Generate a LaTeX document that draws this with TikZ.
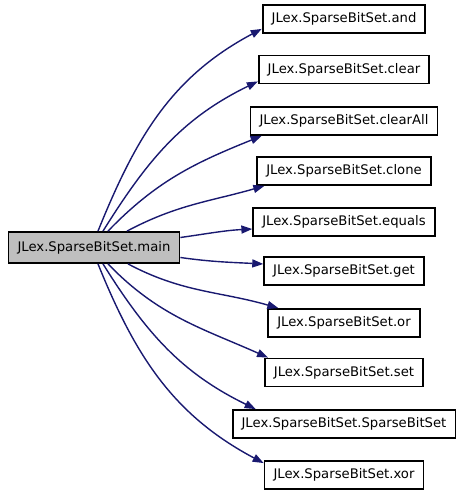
\documentclass[tikz,border=0pt]{standalone}
\usepackage{fontspec}
\setmainfont{DejaVu Sans}
\usepackage{tikz}
\usetikzlibrary{arrows.meta}
\definecolor{edgeblue}{HTML}{191970}
\definecolor{maingray}{HTML}{BFBFBF}

\begin{document}
\begin{tikzpicture}[x=1pt,y=1pt]
        \tikzset{fnbox/.style={rectangle, draw=black, line width=1.8pt, inner xsep=9pt, inner ysep=0pt, minimum height=28pt, font=\fontsize{13.2}{16}\selectfont}}
        \tikzset{call/.style={edgeblue, line width=1.4pt, -{Triangle[length=11pt,width=8pt]}}}
        \useasboundingbox (0,0) rectangle (463,493);

	%---NODES---
        \node[fnbox, fill=maingray, minimum height=31pt] (main) at (94,245.5) {JLex.SparseBitSet.main};

        \node[fnbox] (and)          at (344,474) {JLex.SparseBitSet.and};
        \node[fnbox] (clear)        at (344,423.5) {JLex.SparseBitSet.clear};
        \node[fnbox] (clearAll)     at (344,372) {JLex.SparseBitSet.clearAll};
        \node[fnbox] (clone)        at (344,322) {JLex.SparseBitSet.clone};
        \node[fnbox] (equals)       at (344,271) {JLex.SparseBitSet.equals};
        \node[fnbox] (get)          at (344,222) {JLex.SparseBitSet.get};
        \node[fnbox] (or)           at (344,170) {JLex.SparseBitSet.or};
        \node[fnbox] (set)          at (344,120.5) {JLex.SparseBitSet.set};
        \node[fnbox] (SparseBitSet) at (344,69) {JLex.SparseBitSet.SparseBitSet};
        \node[fnbox] (xor)          at (344,18) {JLex.SparseBitSet.xor};

	%---EDGES---
        \draw[call] ([xshift=4pt]main.north)  to[out=68,in=208]  ([yshift=5pt]and.south west);
        \draw[call] ([xshift=9pt]main.north)  to[out=58,in=206]  ([yshift=3pt]clear.south west);
        \draw[call] ([xshift=14pt]main.north) to[out=46,in=202]  ([xshift=12pt]clearAll.south west);
        \draw[call] ([xshift=33pt]main.north) to[out=28,in=196]  ([xshift=8pt]clone.south west);
        \draw[call] ([yshift=10pt]main.east)  to[out=8,in=183]   ([yshift=-7pt]equals.west);
        \draw[call] ([yshift=-10pt]main.east) to[out=-8,in=177]  ([yshift=7pt]get.west);
        \draw[call] ([xshift=34pt]main.south) to[out=-28,in=164] ([xshift=11pt]or.north west);
        \draw[call] ([xshift=14pt]main.south) to[out=-46,in=156] ([xshift=4pt]set.north west);
        \draw[call] ([xshift=9pt]main.south)  to[out=-58,in=154] ([xshift=24pt]SparseBitSet.north west);
        \draw[call] ([xshift=4pt]main.south)  to[out=-68,in=152] ([yshift=-3pt]xor.north west);
\end{tikzpicture}
\end{document}
